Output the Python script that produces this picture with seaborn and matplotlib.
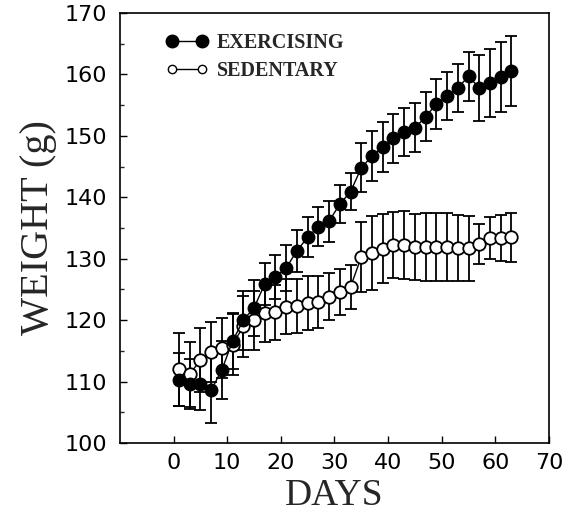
import numpy as np
import pandas as pd
import matplotlib
matplotlib.use("Agg")
import matplotlib.pyplot as plt
import seaborn as sns
from matplotlib.lines import Line2D

# --- Dane ---
days = [1, 3, 5, 7, 9, 11, 13, 15, 17, 19, 21, 23, 25, 27, 29, 31,
        33, 35, 37, 39, 41, 43, 45, 47, 49, 51, 53, 55, 57, 59, 61, 63]

exercising = [110.3, 109.6, 109.6, 108.6, 111.9, 116.6, 120.0, 122.0,
              125.9, 127.0, 128.5, 131.3, 133.5, 135.2, 136.1, 138.9,
              140.9, 144.8, 146.7, 148.2, 149.6, 150.6, 151.3, 153.1,
              155.2, 156.5, 157.8, 159.7, 157.8, 158.6, 159.6, 160.6]
exercising_sd = [4.3, 4.1, 4.3, 5.4, 4.7, 4.6, 4.8, 4.5,
                 3.4, 3.6, 3.7, 3.4, 3.3, 3.2, 3.3, 3.1,
                 3.0, 4.0, 4.1, 4.1, 4.0, 3.9, 4.0, 4.0,
                 4.1, 3.9, 3.9, 4.0, 5.4, 5.5, 5.7, 5.7]

sedentary = [112.0, 111.2, 113.5, 114.8, 115.5, 116.0, 119.0, 120.0,
             121.1, 121.3, 122.2, 122.3, 122.8, 123.0, 123.8, 124.6,
             125.4, 130.3, 130.9, 131.6, 132.2, 132.2, 131.9, 131.9,
             131.9, 131.9, 131.7, 131.7, 132.4, 133.4, 133.4, 133.5]
sedentary_sd = [5.9, 5.3, 5.2, 4.9, 4.9, 5.0, 5.0, 4.8,
                4.6, 4.5, 4.5, 4.4, 4.4, 4.2, 3.8, 3.8,
                3.6, 5.7, 6.0, 5.6, 5.4, 5.5, 5.4, 5.5,
                5.6, 5.6, 5.4, 5.3, 3.3, 3.4, 3.7, 4.0]

x_ticks = [0, 10, 20, 30, 40, 50, 60, 70]
y_ticks = [100, 110, 120, 130, 140, 150, 160, 170]

df = pd.DataFrame({
    "day": days * 2,
    "weight": exercising + sedentary,
    "sd": exercising_sd + sedentary_sd,
    "group": ["EXERCISING"] * len(days) + ["SEDENTARY"] * len(days),
})

sns.set_style("ticks")
plt.rcParams['font.family'] = ['DejaVu Sans']

fig = plt.figure(figsize=(5.73, 5.27), dpi=100)
ax = fig.add_axes([0.2094, 0.1594, 0.7486, 0.8159])

# --- Slupki bledow ---
for grp in ["SEDENTARY", "EXERCISING"]:
    sub = df[df["group"] == grp]
    ax.errorbar(sub["day"], sub["weight"], yerr=sub["sd"], fmt="none",
                ecolor="black", elinewidth=1.3, capsize=4, capthick=1.3,
                zorder=2)

# --- Linie i punkty ---
sed = df[df["group"] == "SEDENTARY"]
ex = df[df["group"] == "EXERCISING"]
sns.lineplot(data=sed, x="day", y="weight", ax=ax, color="black",
             linewidth=1.0, marker="o", markersize=9, markerfacecolor="white",
             markeredgecolor="black", markeredgewidth=1.3, zorder=3)
sns.lineplot(data=ex, x="day", y="weight", ax=ax, color="black",
             linewidth=1.0, marker="o", markersize=9, markerfacecolor="black",
             markeredgecolor="black", markeredgewidth=1.0, zorder=4)

ax.set_xlim(-10, 70)
ax.set_ylim(100, 170)
ax.set_xticks(x_ticks)
ax.set_yticks(y_ticks)
ax.set_yticks(np.arange(105, 170, 10), minor=True)
ax.tick_params(axis="both", which="major", direction="in", length=5,
               width=1.0, labelsize=16, colors="black")
ax.tick_params(axis="x", pad=7)
ax.tick_params(axis="y", pad=9)
ax.tick_params(axis="y", which="minor", direction="in", length=3, width=1.0)
for s in ax.spines.values():
    s.set_linewidth(1.2)
    s.set_color("black")

serif = ['Liberation Serif', 'DejaVu Serif']
ax.set_xlabel("DAYS", family=serif, fontsize=27, labelpad=4)
ax.set_ylabel("WEIGHT (g)", family=serif, fontsize=29, labelpad=6)

# --- Legenda ---
handles = [
    Line2D([], [], color="black", linewidth=1.0, marker="o", markersize=9,
           markerfacecolor="black", markeredgecolor="black"),
    Line2D([], [], color="black", linewidth=1.0, marker="o", markersize=6,
           markerfacecolor="white", markeredgecolor="black", markeredgewidth=1.0),
]
ax.legend(handles, ["EXERCISING", "SEDENTARY"], loc="upper left",
          bbox_to_anchor=(0.088, 0.972), borderaxespad=0,
          frameon=False, numpoints=2, handlelength=2.1, handletextpad=0.45,
          labelspacing=0.4, prop={"family": serif, "size": 14.5,
                                  "weight": "bold"})

fig.savefig("out.png", dpi=100)
